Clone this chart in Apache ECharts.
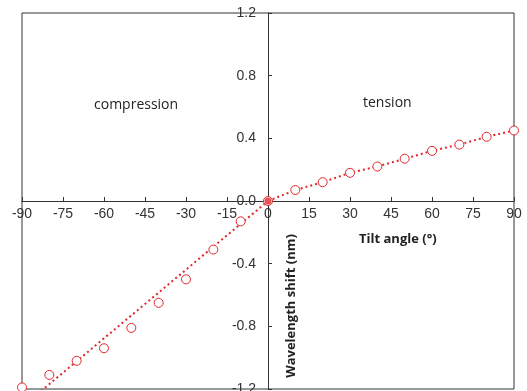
<!DOCTYPE html>
<html>
<head>
<meta charset="utf-8">
<script src="https://cdn.jsdelivr.net/npm/echarts@6/dist/echarts.min.js"></script>
<style>html,body{margin:0;padding:0;background:#fff}#c{width:527px;height:391px}</style>
</head>
<body>
<div id="c"></div>
<script>
var tiltAngles = [-90, -80, -70, -60, -50, -40, -30, -20, -10, 0, 10, 20, 30, 40, 50, 60, 70, 80, 90];
var wavelengthShift = [-1.19, -1.11, -1.02, -0.94, -0.81, -0.65, -0.50, -0.31, -0.13, 0.0, 0.07, 0.12, 0.18, 0.22, 0.27, 0.32, 0.36, 0.41, 0.45];
var compFitX = [-90, 0];
var compFitY = [-1.315, 0];
var tensFitX = [0, 10, 20, 30, 40, 50, 60, 70, 80, 90];
var tensFitY = [0.0, 0.07, 0.12, 0.18, 0.22, 0.27, 0.32, 0.36, 0.41, 0.45];
var xTicks = [-90, -75, -60, -45, -30, -15, 0, 15, 30, 45, 60, 75, 90];
var yTicks = [-1.2, -0.8, -0.4, 0.0, 0.4, 0.8, 1.2];

var red = '#e2262b';
var pts = tiltAngles.map(function (x, i) { return [x, wavelengthShift[i]]; });
var comp = compFitX.map(function (x, i) { return [x, compFitY[i]]; });
var tens = tensFitX.map(function (x, i) { return [x, tensFitY[i]]; });

var W = 527, H = 391;
var G = {left: 22, right: 13, top: 13, bottom: 2};
var xMin = xTicks[0], xMax = xTicks[xTicks.length - 1];
var yMin = yTicks[0], yMax = yTicks[yTicks.length - 1];
var gw = W - G.left - G.right, gh = H - G.top - G.bottom;
var yAxisOffset = -gw * (0 - xMin) / (xMax - xMin);
var xAxisOffset = -gh * (0 - yMin) / (yMax - yMin);

var chart = echarts.init(document.getElementById('c'), null, {renderer: 'canvas'});
chart.setOption({
  animation: false,
  grid: {left: G.left, right: G.right, top: G.top, bottom: G.bottom, containLabel: false, outerBoundsMode: 'none',
    show: true, borderColor: '#333', borderWidth: 1, backgroundColor: 'transparent'},
  xAxis: {
    type: 'value', min: xMin, max: xMax, interval: 15, position: 'bottom', offset: xAxisOffset,
    axisLine: {show: true, onZero: false, lineStyle: {color: '#333', width: 1}},
    axisTick: {show: true, inside: true, length: 4, lineStyle: {color: '#333'}},
    axisLabel: {show: true, margin: 6, color: '#333', fontSize: 14, fontFamily: 'Liberation Sans, Arial, sans-serif', showMinLabel: true, showMaxLabel: true, hideOverlap: false},
    splitLine: {show: false}
  },
  yAxis: {
    type: 'value', min: yMin, max: yMax, interval: 0.4, position: 'left', offset: yAxisOffset,
    axisLine: {show: true, onZero: false, lineStyle: {color: '#333', width: 1}},
    axisTick: {show: true, inside: true, length: 4, lineStyle: {color: '#333'}},
    axisLabel: {show: true, margin: 12, color: '#333', fontSize: 14, fontFamily: 'Liberation Sans, Arial, sans-serif', hideOverlap: false,
      formatter: function (v) { return (Math.round(v * 10) / 10).toFixed(1); }},
    splitLine: {show: false}
  },
  graphic: [
    {type: 'text', left: 94, top: 98, style: {text: 'compression', font: '14px "Open Sans", sans-serif', fill: '#222'}},
    {type: 'text', left: 363, top: 96, style: {text: 'tension', font: '14px "Open Sans", sans-serif', fill: '#222'}},
    {type: 'text', left: 359, top: 233, style: {text: 'Tilt angle (°)', font: 'bold 13px "Open Sans", sans-serif', fill: '#222'}},
    {type: 'text', x: 291, y: 306, rotation: Math.PI / 2, style: {text: 'Wavelength shift (nm)', font: 'bold 13px "Open Sans", sans-serif', fill: '#222', align: 'center', verticalAlign: 'middle'}}
  ],
  series: [
    {type: 'line', data: comp, showSymbol: false, symbol: 'none', clip: true, lineStyle: {color: red, width: 2, type: [2, 3]}, z: 2},
    {type: 'line', data: tens, showSymbol: false, symbol: 'none', clip: true, lineStyle: {color: red, width: 2, type: [2, 3]}, z: 2},
    {type: 'scatter', data: pts, symbol: 'circle', symbolSize: 9, clip: false,
      itemStyle: {color: '#fff', borderColor: red, borderWidth: 1, opacity: 1}, z: 3},
    {type: 'scatter', data: [[0, 0]], symbol: 'circle', symbolSize: 7, clip: false, itemStyle: {color: red}, z: 4}
  ]
});
</script>
</body>
</html>
